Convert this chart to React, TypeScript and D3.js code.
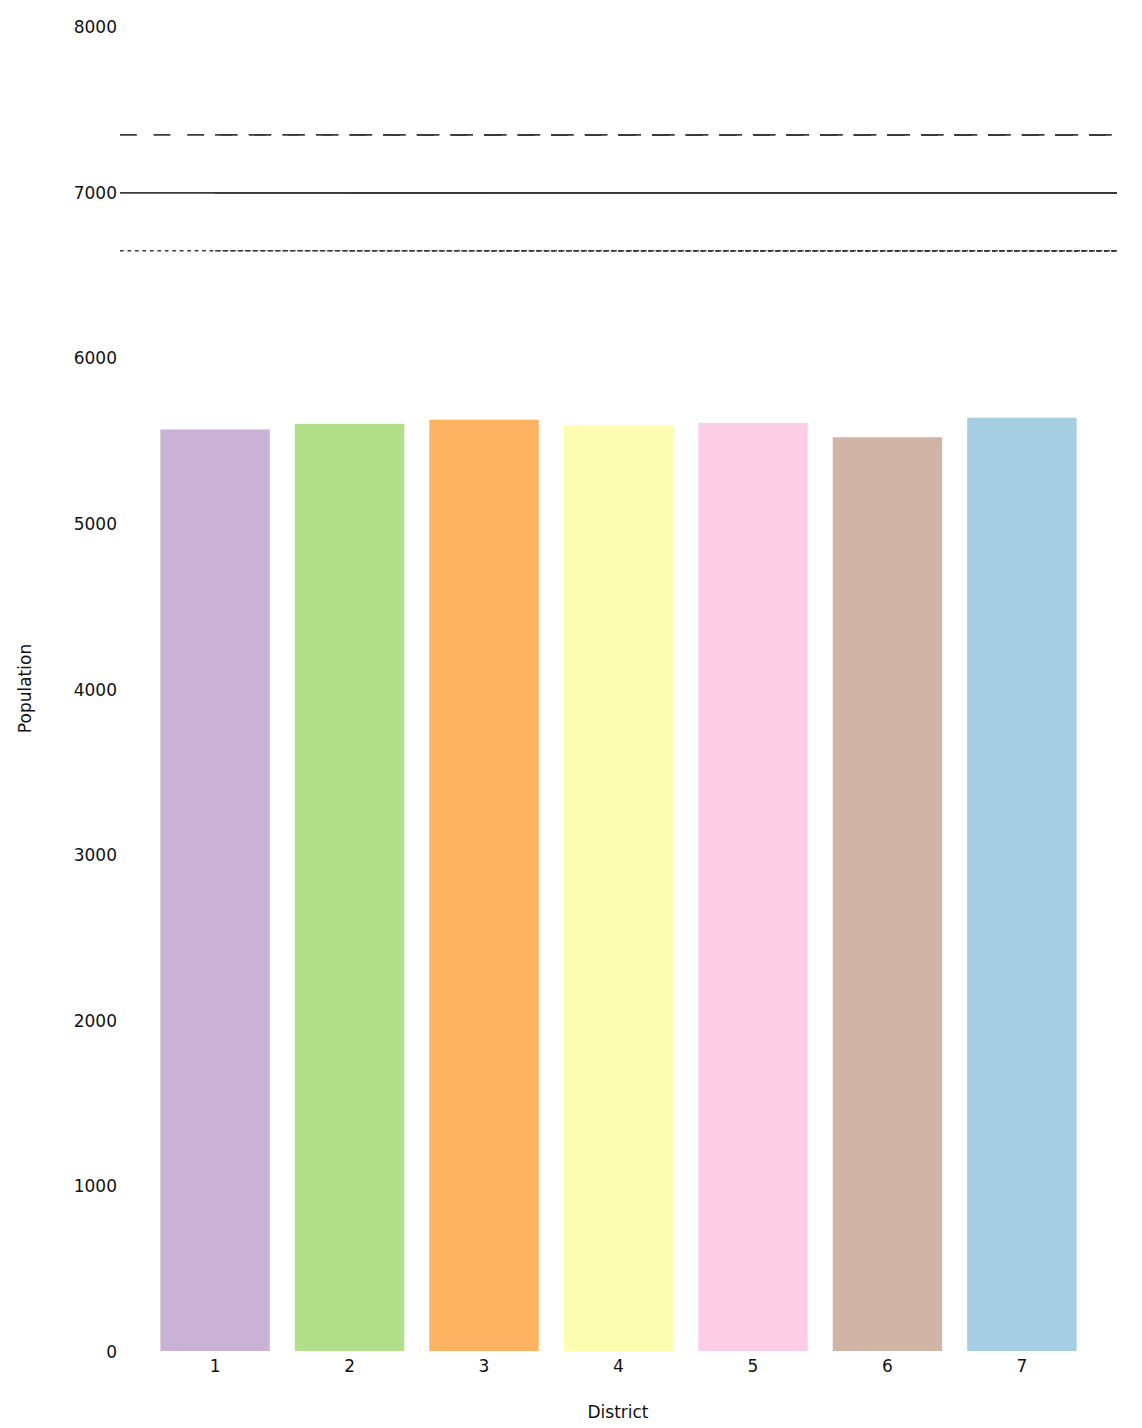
import React from "react";
import * as d3 from "d3";

const districts = ["1", "2", "3", "4", "5", "6", "7"];
const population = [5564, 5598, 5623, 5586, 5604, 5517, 5635];
const barColors = ["#cab2d6", "#b2df8a", "#fdb462", "#fdfdb2", "#fccde5", "#d0b4a6", "#a6cee3"];
const yTicks = [0, 1000, 2000, 3000, 4000, 5000, 6000, 7000, 8000];
const target = 6993;
const upperLimit = 7343;
const lowerLimit = 6643;

const W = 1142;
const H = 1428;
const FONT = "'DejaVu Sans', Verdana, sans-serif";

export default function App() {
  const x = d3.scaleBand<string>().domain(districts).range([120, 1117]).paddingInner(0.186).paddingOuter(0.3);
  const y = d3.scaleLinear().domain([0, 8000]).range([1351, 26]);

  const dashLen = x.step() / 8;
  const dotLen = x.step() / 36;
  const refLines = [
    { v: upperLimit, dash: `${dashLen},${dashLen}` },
    { v: target, dash: "" },
    { v: lowerLimit, dash: `${dotLen},${dotLen}` },
  ];
  const starts = [120, ...districts.map((d) => (x(d) as number) + x.bandwidth() / 2)];

  return (
    <svg width={W} height={H} style={{ position: "absolute", left: 0, top: 0, background: "#fff" }}>
      {districts.map((d, i) => (
        <rect
          key={d}
          x={x(d)}
          y={y(population[i])}
          width={x.bandwidth()}
          height={y(0) - y(population[i])}
          fill={barColors[i]}
        />
      ))}
      {refLines.map((r, k) =>
        starts.map((s, j) => (
          <line
            key={k + "-" + j}
            x1={s}
            x2={1117}
            y1={y(r.v)}
            y2={y(r.v)}
            stroke="#3a3a3a"
            strokeWidth={1.7}
            strokeDasharray={r.dash || undefined}
          />
        ))
      )}
      {yTicks.map((t) => (
        <text key={t} x={117} y={y(t) + 1} dy="0.36em" textAnchor="end" fontFamily={FONT} fontSize={17} fill="#111">
          {t}
        </text>
      ))}
      {districts.map((d) => (
        <text
          key={d}
          x={(x(d) as number) + x.bandwidth() / 2}
          y={1366}
          dy="0.36em"
          textAnchor="middle"
          fontFamily={FONT}
          fontSize={17}
          fill="#111"
        >
          {d}
        </text>
      ))}
      <text x={618} y={1412} dy="0.36em" textAnchor="middle" fontFamily={FONT} fontSize={17} fill="#111">
        District
      </text>
      <text
        transform={`translate(25,${(y(0) + y(8000)) / 2}) rotate(-90)`}
        dy="0.36em"
        textAnchor="middle"
        fontFamily={FONT}
        fontSize={17}
        fill="#111"
      >
        Population
      </text>
    </svg>
  );
}
